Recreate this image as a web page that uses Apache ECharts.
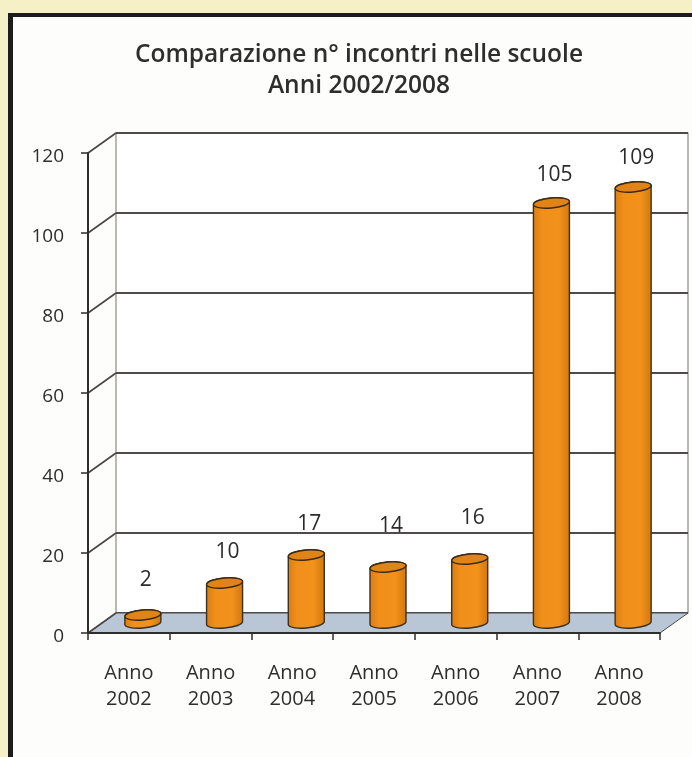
<!DOCTYPE html>
<html><head><meta charset="utf-8">
<script src="https://cdn.jsdelivr.net/npm/echarts@6/dist/echarts.min.js"></script>
<style>
html,body{margin:0;padding:0;width:692px;height:757px;overflow:hidden;background:#f6f0c6}
#frame{position:absolute;left:8px;top:13px;width:684px;height:744px;box-sizing:border-box;border-left:5px solid #1d1b1d;border-top:4px solid #1d1b1d;background:#fdfdfb}
#c{position:absolute;left:0;top:0;width:692px;height:757px}
</style></head><body>
<div id="frame"></div><div id="c"></div>
<script>
const titleLines = ['Comparazione n° incontri nelle scuole', 'Anni 2002/2008'];
const categories = ['Anno 2002','Anno 2003','Anno 2004','Anno 2005','Anno 2006','Anno 2007','Anno 2008'];
const values = [2, 10, 17, 14, 16, 105, 109];
const yTicks = [0, 20, 40, 60, 80, 100, 120];
const labelLift = [35, 31, 31, 41, 41, 28, 29];

const FONT = '"Open Sans", sans-serif';
const DX = 28, DY = -20, GL = 88, GT = 153, GW = 572, GH = 480;
const R = 18, RY = 5, TILT = 1.5;

function arc(x, y, sweep){ return `A${R} ${RY} -5 0 ${sweep} ${x} ${y}`; }

function renderFloor(params, api){
  const cs = params.coordSys;
  const y0 = api.coord([0, 0])[1];
  const l = cs.x, r = cs.x + cs.width;
  return {type:'polygon', shape:{points:[[l,y0],[r,y0],[r+DX,y0+DY],[l+DX,y0+DY]]},
    style:{fill:'#b9c6d6', stroke:'#4a4a4a', lineWidth:1}};
}
function renderDiagonal(params, api){
  const x = params.coordSys.x;
  const y = api.coord([0, api.value(0)])[1];
  return {type:'line', shape:{x1:x, y1:y, x2:x+DX, y2:y+DY}, style:{stroke:'#4a4646', lineWidth:1.6, fill:null}};
}
function renderCylinder(params, api){
  const i = api.value(0), v = api.value(1);
  const c = api.coord([i, v]), b = api.coord([i, 0]);
  const cx = c[0] + DX/2, top = c[1] + DY/2, base = b[1] + DY/2;
  const lx = cx - R, rx = cx + R;
  const body = `M${lx} ${top+TILT}L${lx} ${base+TILT}${arc(rx, base-TILT, 0)}L${rx} ${top-TILT}${arc(lx, top+TILT, 0)}Z`;
  const lid = `M${lx} ${top+TILT}${arc(rx, top-TILT, 1)}${arc(lx, top+TILT, 1)}Z`;
  return {type:'group', children:[
    {type:'path', shape:{pathData:body}, style:{
      fill:{type:'linear',x:0,y:0,x2:1,y2:0,colorStops:[
        {offset:0,color:'#d97c10'},{offset:0.25,color:'#f0901a'},{offset:0.7,color:'#f2921c'},{offset:1,color:'#d0760e'}]},
      stroke:'#3b3024', lineWidth:1.4}},
    {type:'path', shape:{pathData:lid}, style:{fill:'#e08418', stroke:'#3b2a14', lineWidth:1.4}},
    {type:'text', x:cx+3, y:top-labelLift[i], style:{text:String(v), fontFamily:FONT, fontSize:21,
      fill:'#2b2b2b', align:'center', verticalAlign:'middle'}}
  ]};
}

const chart = echarts.init(document.getElementById('c'), null, {renderer:'canvas'});
chart.setOption({
  animation:false,
  backgroundColor:'transparent',
  title:{text:titleLines.join('\n'), left:354, top:35, textAlign:'center',
    textStyle:{fontFamily:FONT, fontSize:24.5, fontWeight:600, lineHeight:31, color:'#2e2e2e'}},
  grid:[
    {left:GL, top:GT, width:GW, height:GH},
    {left:GL+DX, top:GT+DY, width:GW, height:GH, show:true, backgroundColor:'#ffffff', borderColor:'#8d8985', borderWidth:1.2}
  ],
  xAxis:[
    {type:'category', gridIndex:0, data:categories, z:3,
      axisLine:{lineStyle:{color:'#2f2d2d', width:2}},
      axisTick:{show:true, alignWithLabel:false, length:7, lineStyle:{color:'#2f2d2d', width:1.5}},
      axisLabel:{interval:0, margin:27, fontFamily:FONT, fontSize:20, lineHeight:26, color:'#2e2e2e',
        formatter:s=>s.replace(' ','\n')}},
    {type:'category', gridIndex:1, data:categories, axisLine:{show:false}, axisTick:{show:false}, axisLabel:{show:false}}
  ],
  yAxis:[
    {type:'value', gridIndex:0, min:0, max:120, interval:20, z:3,
      axisLine:{show:true, lineStyle:{color:'#2f2d2d', width:2}},
      axisTick:{show:true, length:7, lineStyle:{color:'#2f2d2d', width:1.5}},
      splitLine:{show:false},
      axisLabel:{margin:24, fontFamily:FONT, fontSize:19, color:'#2e2e2e', formatter:'{n|{value}}',
        rich:{n:{fontFamily:FONT, fontSize:19, color:'#2e2e2e', padding:[7,0,0,0]}}}},
    {type:'value', gridIndex:1, min:0, max:120, interval:20,
      axisLine:{show:false}, axisTick:{show:false}, axisLabel:{show:false},
      splitLine:{show:true, lineStyle:{color:'#4e4b4a', width:2}}}
  ],
  series:[
    {type:'custom', xAxisIndex:0, yAxisIndex:0, z:1, silent:true, data:[[0]], renderItem:renderFloor},
    {type:'custom', xAxisIndex:0, yAxisIndex:0, z:2, silent:true, data:yTicks.map(t=>[t]), renderItem:renderDiagonal},
    {type:'custom', xAxisIndex:0, yAxisIndex:0, z:4, silent:true, clip:false,
      data:values.map((v,i)=>[i,v]), encode:{x:0,y:1}, renderItem:renderCylinder}
  ]
});
</script></body></html>
